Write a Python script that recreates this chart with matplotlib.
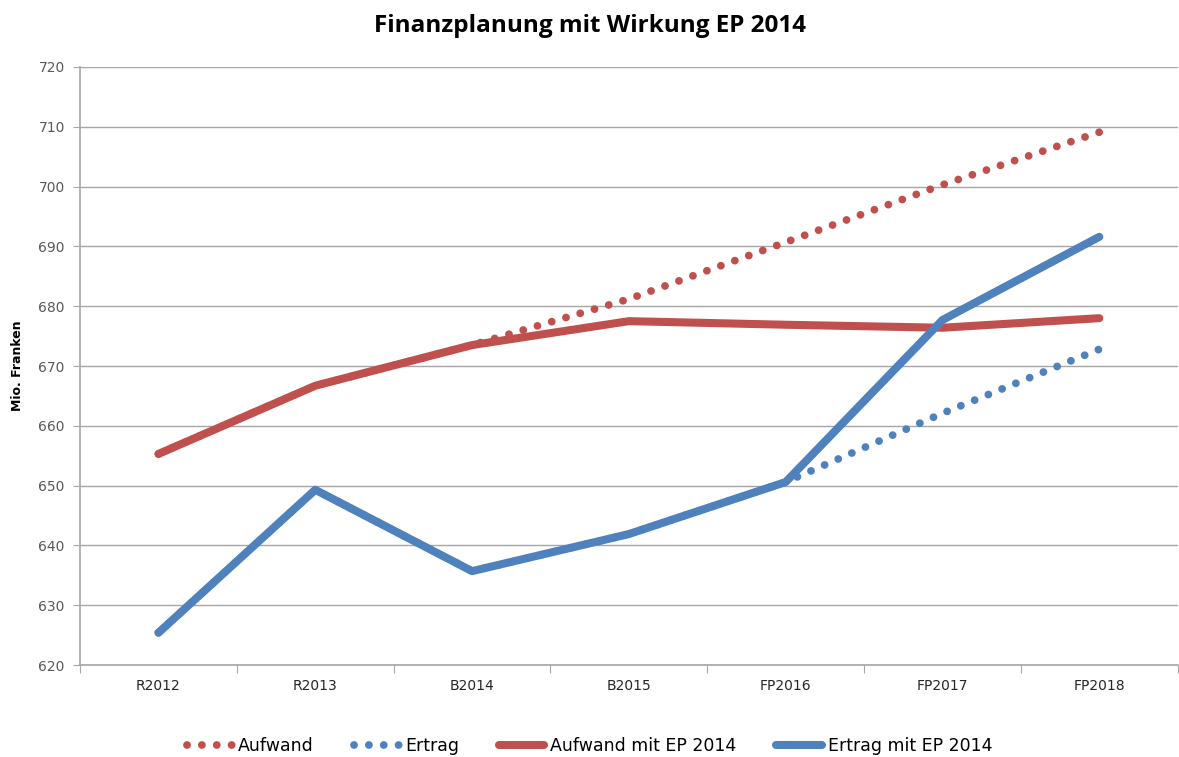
import numpy as np
import matplotlib.pyplot as plt
from matplotlib.lines import Line2D

plt.rcParams["font.family"] = ["Liberation Sans Narrow", "DejaVu Sans"]

# data (Mio. Franken)
categories = ["R2012", "R2013", "B2014", "B2015", "FP2016", "FP2017", "FP2018"]
aufwand = [655.3, 666.7, 673.5, 681.2, 690.7, 700.3, 709.1]
ertrag = [625.4, 649.3, 635.7, 641.9, 650.6, 662.1, 672.8]
aufwand_ep = [655.3, 666.7, 673.5, 677.5, 676.9, 676.4, 678.0]
ertrag_ep = [625.4, 649.3, 635.7, 641.9, 650.6, 677.7, 691.6]

red = "#C0504D"
blue = "#4F81BD"
grid_col = "#A6A6A6"

fig = plt.figure(figsize=(11.79, 7.57), dpi=100)
ax = fig.add_axes([0.0679, 0.1215, 0.931, 0.79])

x = np.arange(len(categories))
dot_style = (0, (0.01, 1.9))

ax.plot(x, aufwand, color=red, lw=5.6, linestyle=dot_style,
        dash_capstyle="round", zorder=2)
ax.plot(x, ertrag, color=blue, lw=5.6, linestyle=dot_style,
        dash_capstyle="round", zorder=2)
ax.plot(x, aufwand_ep, color=red, lw=5.8, solid_capstyle="round",
        solid_joinstyle="round", zorder=3)
ax.plot(x, ertrag_ep, color=blue, lw=5.8, solid_capstyle="round",
        solid_joinstyle="round", zorder=4)

ax.set_xlim(-0.5, len(categories) - 0.5)
ax.set_ylim(620, 720)
ax.set_yticks(np.arange(620, 721, 10))
ax.yaxis.grid(True, color=grid_col, lw=1.0)
ax.set_axisbelow(True)

# category labels centred, tick marks between categories
ax.set_xticks(np.arange(-0.5, len(categories), 1.0))
ax.set_xticklabels([])
ax.set_xticks(x, minor=True)
ax.set_xticklabels(categories, minor=True, fontsize=10, color="#262626")
ax.tick_params(axis="x", which="minor", length=0, pad=10)
ax.tick_params(axis="x", which="major", length=6, color=grid_col, direction="out")
ax.tick_params(axis="y", length=5, color=grid_col, labelsize=10,
               labelcolor="#595959", pad=6)

for side in ["top", "right"]:
    ax.spines[side].set_visible(False)
for side in ["left", "bottom"]:
    ax.spines[side].set_color(grid_col)
    ax.spines[side].set_linewidth(1.2)

ax.set_ylabel("Mio. Franken", fontsize=9, fontweight="bold", labelpad=10)
fig.suptitle("Finanzplanung mit Wirkung EP 2014", fontsize=17.5,
             fontweight="bold", y=0.982,
             family=["Open Sans", "DejaVu Sans"])

handles = [
    Line2D([], [], color=red, lw=5.6, linestyle=dot_style, dash_capstyle="round"),
    Line2D([], [], color=blue, lw=5.6, linestyle=dot_style, dash_capstyle="round"),
    Line2D([], [], color=red, lw=5.8, solid_capstyle="round"),
    Line2D([], [], color=blue, lw=5.8, solid_capstyle="round"),
]
labels = ["Aufwand", "Ertrag", "Aufwand mit EP 2014", "Ertrag mit EP 2014"]
fig.legend(handles, labels, loc="lower center", bbox_to_anchor=(0.5, -0.018),
           ncol=4, frameon=False, fontsize=12.5, handlelength=2.6,
           handletextpad=0.35, columnspacing=2.3)

fig.savefig("out.png", dpi=100)
